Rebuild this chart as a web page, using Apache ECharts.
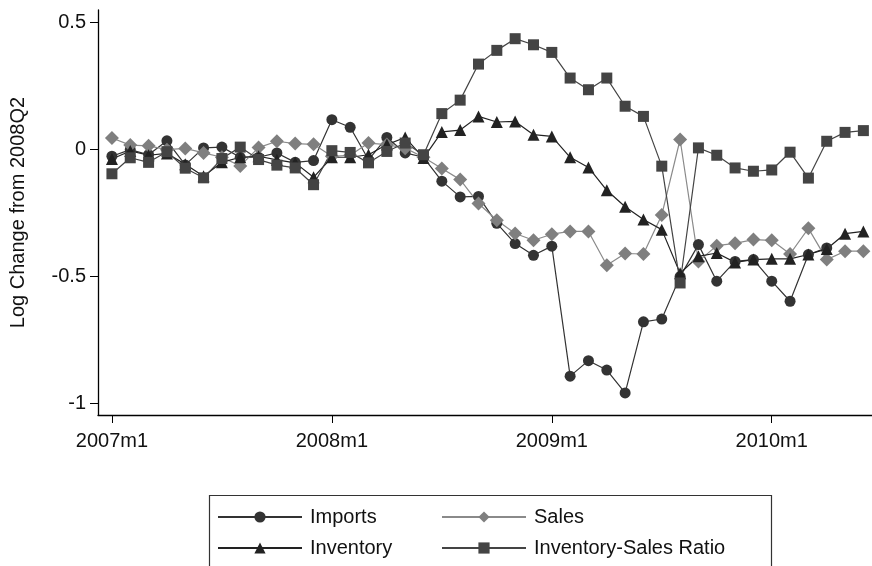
<!DOCTYPE html>
<html>
<head>
<meta charset="utf-8">
<script src="https://cdn.jsdelivr.net/npm/echarts@6/dist/echarts.min.js"></script>
<style>
  html, body { margin: 0; padding: 0; background: #fff; }
  #chart { width: 872px; height: 566px; }
</style>
</head>
<body>
<div id="chart"></div>
<script>
// 月份（2007m1 - 2010m6）
let months = [
  '2007m1','2007m2','2007m3','2007m4','2007m5','2007m6','2007m7','2007m8','2007m9','2007m10','2007m11','2007m12',
  '2008m1','2008m2','2008m3','2008m4','2008m5','2008m6','2008m7','2008m8','2008m9','2008m10','2008m11','2008m12',
  '2009m1','2009m2','2009m3','2009m4','2009m5','2009m6','2009m7','2009m8','2009m9','2009m10','2009m11','2009m12',
  '2010m1','2010m2','2010m3','2010m4','2010m5','2010m6'
]
let xTickMonths = ['2007m1', '2008m1', '2009m1', '2010m1']
let yTicks = [-1, -0.5, 0, 0.5]

// 数据
let imports = [
  -0.026, 0.0, -0.02, 0.035, -0.06, 0.007, 0.01, -0.03, -0.03, -0.013, -0.05, -0.043,
  0.118, 0.088, -0.04, 0.048, -0.013, -0.03, -0.124, -0.186, -0.184, -0.29, -0.37, -0.416,
  -0.38, -0.892, -0.831, -0.868, -0.958, -0.678, -0.667, -0.5, -0.374, -0.518, -0.44, -0.433,
  -0.518, -0.597, -0.413, -0.387
]
let sales = [
  0.046, 0.018, 0.015, 0.0, 0.005, -0.013, -0.03, -0.064, 0.008, 0.033, 0.024, 0.021,
  -0.026, -0.022, 0.026, 0.02, 0.006, -0.03, -0.074, -0.118, -0.212, -0.278, -0.33, -0.357,
  -0.333, -0.322, -0.322, -0.455, -0.409, -0.411, -0.257, 0.04, -0.44, -0.378, -0.369, -0.354,
  -0.357, -0.411, -0.31, -0.433, -0.4, -0.4
]
let inventory = [
  -0.037, -0.005, -0.022, -0.015, -0.057, -0.105, -0.05, -0.03, -0.026, -0.04, -0.052, -0.109,
  -0.03, -0.03, -0.02, 0.02, 0.048, -0.033, 0.07, 0.077, 0.131, 0.109, 0.111, 0.059,
  0.052, -0.03, -0.07, -0.16, -0.225, -0.275, -0.315, -0.487, -0.42, -0.407, -0.444, -0.433,
  -0.43, -0.43, -0.413, -0.391, -0.331, -0.322
]
let ratio = [
  -0.095, -0.032, -0.05, -0.008, -0.073, -0.111, -0.035, 0.01, -0.039, -0.061, -0.072, -0.138,
  -0.004, -0.011, -0.052, -0.007, 0.026, -0.02, 0.142, 0.195, 0.337, 0.391, 0.437, 0.413,
  0.383, 0.282, 0.236, 0.282, 0.171, 0.131, -0.065, -0.525, 0.007, -0.022, -0.072, -0.085,
  -0.08, -0.01, -0.112, 0.033, 0.068, 0.075
]

let fontFamily = '"Liberation Sans", Arial, sans-serif'

function pairs(values) {
  return values.map((v, i) => [i, v])
}

function lineSeries(name, values, symbol, size, color, lineColor) {
  return {
    name: name,
    type: 'line',
    data: pairs(values),
    symbol: symbol,
    symbolSize: size,
    showAllSymbol: true,
    itemStyle: { color: color, borderWidth: 0 },
    lineStyle: { color: lineColor, width: 1.2 },
    emphasis: { disabled: true },
    animation: false
  }
}

function legendBlock(names, left) {
  return {
    data: names,
    orient: 'vertical',
    left: left, top: 507,
    padding: 0,
    itemWidth: 84, itemHeight: 14, itemGap: 11,
    textStyle: { fontSize: 20, color: '#111', fontFamily: fontFamily, padding: [0, 0, 0, 3] },
    selectedMode: false
  }
}

let chart = echarts.init(document.getElementById('chart'))
let option = {
  backgroundColor: '#fff',
  textStyle: { fontFamily: fontFamily },
  grid: { left: 97, right: 0, top: 10, bottom: 151 },
  xAxis: {
    type: 'value',
    min: -0.76,
    max: 41.47,
    splitLine: { show: false },
    axisLine: { show: true, onZero: false, lineStyle: { color: '#000', width: 1.3 } },
    axisTick: {
      show: true, length: 8, lineStyle: { color: '#000', width: 1 },
      customValues: xTickMonths.map(m => months.indexOf(m))
    },
    axisLabel: {
      show: true, color: '#111', fontSize: 20, margin: 16, fontFamily: fontFamily,
      customValues: xTickMonths.map(m => months.indexOf(m)),
      formatter: v => months[Math.round(v)]
    }
  },
  yAxis: {
    type: 'value',
    min: -1.045,
    max: 0.55,
    name: 'Log Change from 2008Q2',
    nameLocation: 'middle',
    nameGap: 70,
    nameTextStyle: { color: '#111', fontSize: 20, fontFamily: fontFamily },
    splitLine: { show: false },
    axisLine: { show: true, onZero: false, lineStyle: { color: '#000', width: 1.3 } },
    axisTick: {
      show: true, length: 8, lineStyle: { color: '#000', width: 1 },
      customValues: yTicks
    },
    axisLabel: {
      show: true, color: '#111', fontSize: 20, margin: 12, fontFamily: fontFamily,
      customValues: yTicks,
      formatter: v => String(v)
    }
  },
  legend: [
    legendBlock(['Imports', 'Inventory'], 217),
    legendBlock(['Sales', 'Inventory-Sales Ratio'], 441)
  ],
  graphic: [
    {
      type: 'rect',
      left: 207, top: 493,
      shape: { width: 562, height: 90 },
      style: { fill: 'none', stroke: '#333', lineWidth: 1.2 },
      silent: true
    }
  ],
  series: [
    lineSeries('Imports', imports, 'circle', 11, '#333', '#333'),
    lineSeries('Sales', sales, 'diamond', 14, '#7f7f7f', '#8a8a8a'),
    lineSeries('Inventory', inventory, 'triangle', 12, '#222', '#222'),
    lineSeries('Inventory-Sales Ratio', ratio, 'rect', 11, '#444', '#444')
  ]
}
chart.setOption(option)
</script>
</body>
</html>
